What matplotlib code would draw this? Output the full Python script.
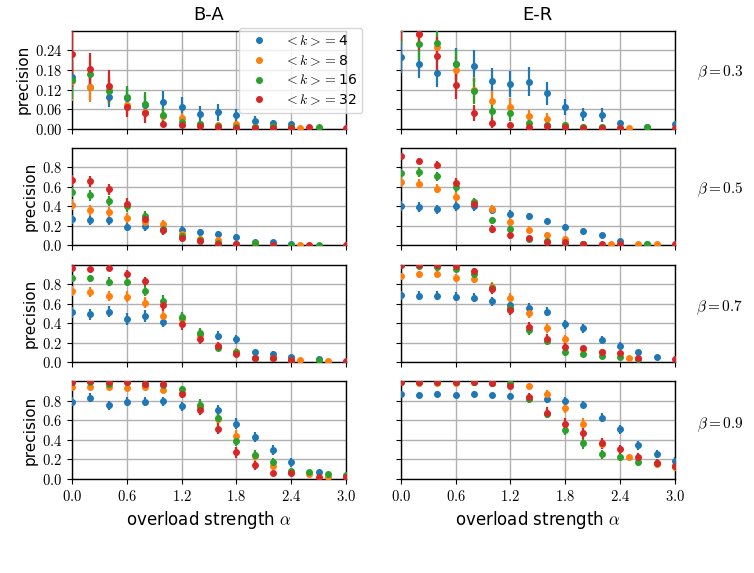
import numpy as np
import matplotlib
matplotlib.use("Agg")
import matplotlib.pyplot as plt
from matplotlib.lines import Line2D
from matplotlib.ticker import FuncFormatter, MultipleLocator

plt.rcParams['mathtext.fontset'] = 'cm'
plt.rcParams['font.family'] = ['DejaVu Sans']

# ---------------- data ----------------
ALPHA = [0.0, 0.2, 0.4, 0.6, 0.8, 1.0, 1.2, 1.4, 1.6, 1.8, 2.0, 2.2, 2.4, 2.6, 2.8, 3.0]
K_VALUES = [4, 8, 16, 32]
COLORS = ['#1f77b4', '#ff7f0e', '#2ca02c', '#d62728']
NETWORKS = ['B-A', 'E-R']
BETAS = ['0.3', '0.5', '0.7', '0.9']
N = None

BA_03 = {
    4:  [0.159, 0.128, 0.097, 0.094, 0.072, 0.082, 0.067, 0.046, 0.050, 0.041, 0.024, 0.016, 0.013, N, N, N],
    8:  [0.146, 0.128, 0.120, 0.072, 0.051, 0.038, 0.034, 0.015, 0.012, 0.013, 0.005, 0.004, 0.003, N, N, N],
    16: [0.150, 0.169, 0.116, 0.097, 0.077, 0.041, 0.021, 0.015, 0.008, 0.006, 0.005, 0.008, 0.006, N, N, N],
    32: [0.229, 0.182, 0.131, 0.067, 0.048, 0.015, 0.012, 0.009, 0.005, 0.003, 0.003, 0.003, 0.003, 0.005, N, 0.003],
}
BA_03_ERR = {
    4:  [0.040, 0.040, 0.030, 0.030, 0.030, 0.033, 0.030, 0.025, 0.025, 0.020, 0.015, 0.010, 0.008, N, N, N],
    8:  [0.060, 0.045, 0.040, 0.030, 0.025, 0.020, 0.015, 0.010, 0.008, 0.008, 0.004, 0.003, 0.002, N, N, N],
    16: [0.060, 0.040, 0.040, 0.035, 0.035, 0.025, 0.015, 0.010, 0.006, 0.004, 0.004, 0.004, 0.003, N, N, N],
    32: [0.100, 0.050, 0.050, 0.030, 0.030, 0.010, 0.008, 0.005, 0.004, 0.003, 0.003, 0.003, 0.003, 0.003, N, 0.002],
}
BA_03_EXTRA = {8: [(2.5, 0.003)], 16: [(2.7, 0.005)]}

ER_03 = {
    4:  [0.221, 0.197, 0.172, 0.198, 0.192, 0.146, 0.136, 0.144, 0.109, 0.067, 0.044, 0.042, 0.016, N, N, 0.013],
    8:  [0.310, 0.292, 0.250, 0.180, 0.120, 0.085, 0.065, 0.038, 0.029, 0.012, 0.006, 0.004, 0.003, N, N, N],
    16: [0.320, 0.260, 0.262, 0.198, 0.116, 0.054, 0.048, 0.017, 0.010, 0.010, 0.005, 0.005, 0.003, N, N, N],
    32: [0.330, 0.292, 0.222, 0.135, 0.049, 0.018, 0.012, 0.005, 0.008, 0.005, 0.003, 0.003, 0.003, N, N, 0.003],
}
ER_03_ERR = {
    4:  [0.050, 0.040, 0.045, 0.050, 0.050, 0.040, 0.040, 0.045, 0.035, 0.025, 0.020, 0.020, 0.010, N, N, 0.008],
    8:  [0.050, 0.040, 0.040, 0.040, 0.040, 0.030, 0.030, 0.020, 0.020, 0.010, 0.005, 0.004, 0.003, N, N, N],
    16: [0.060, 0.050, 0.050, 0.045, 0.040, 0.025, 0.025, 0.015, 0.008, 0.006, 0.004, 0.004, 0.003, N, N, N],
    32: [0.060, 0.050, 0.060, 0.045, 0.025, 0.015, 0.010, 0.005, 0.005, 0.004, 0.003, 0.003, 0.003, N, N, 0.002],
}
ER_03_EXTRA = {4: [(2.7, 0.005)], 8: [(2.5, 0.002)], 16: [(2.7, 0.005)]}

BA_05 = {
    4:  [0.267, 0.256, 0.256, 0.188, 0.195, 0.160, 0.160, 0.133, 0.113, 0.085, 0.034, 0.031, 0.010, N, N, N],
    8:  [0.417, 0.359, 0.338, 0.280, 0.239, 0.215, 0.120, 0.068, 0.051, 0.012, 0.030, N, N, N, N, N],
    16: [0.547, 0.513, 0.455, 0.400, 0.297, 0.171, 0.096, 0.060, 0.024, 0.010, 0.027, N, 0.007, N, N, N],
    32: [0.667, 0.656, 0.574, 0.427, 0.274, 0.154, 0.075, 0.044, 0.017, 0.010, N, 0.007, N, 0.007, N, 0.007],
}
BA_05_ERR = {
    4:  [0.045, 0.045, 0.045, 0.045, 0.045, 0.040, 0.040, 0.035, 0.030, 0.028, 0.016, 0.014, 0.007, N, N, N],
    8:  [0.055, 0.055, 0.055, 0.055, 0.055, 0.048, 0.040, 0.028, 0.020, 0.010, 0.014, N, N, N, N, N],
    16: [0.055, 0.055, 0.055, 0.055, 0.055, 0.048, 0.040, 0.028, 0.016, 0.008, 0.011, N, 0.007, N, N, N],
    32: [0.055, 0.055, 0.055, 0.055, 0.055, 0.048, 0.034, 0.028, 0.014, 0.008, N, 0.007, N, 0.007, N, 0.007],
}
BA_05_EXTRA = {8: [(2.5, 0.007)], 16: [(2.7, 0.007)]}

ER_05 = {
    4:  [0.403, 0.393, 0.369, 0.400, 0.403, 0.360, 0.325, 0.297, 0.250, 0.188, 0.147, 0.103, 0.044, N, N, N],
    8:  [0.650, 0.632, 0.581, 0.496, 0.440, 0.369, 0.236, 0.161, 0.109, 0.068, 0.010, N, N, 0.012, 0.010, N],
    16: [0.745, 0.752, 0.708, 0.598, 0.441, 0.256, 0.171, 0.070, 0.044, 0.030, 0.010, N, N, N, N, N],
    32: [0.913, 0.865, 0.820, 0.639, 0.427, 0.171, 0.103, 0.072, 0.038, 0.031, 0.010, 0.010, 0.010, N, N, 0.010],
}
ER_05_ERR = {
    4:  [0.048, 0.048, 0.048, 0.048, 0.048, 0.040, 0.040, 0.040, 0.034, 0.034, 0.028, 0.020, 0.011, N, N, N],
    8:  [0.048, 0.048, 0.048, 0.048, 0.048, 0.048, 0.040, 0.034, 0.028, 0.020, 0.007, N, N, 0.007, 0.006, N],
    16: [0.040, 0.048, 0.048, 0.048, 0.048, 0.040, 0.034, 0.020, 0.014, 0.011, 0.007, N, N, N, N, N],
    32: [0.028, 0.034, 0.040, 0.048, 0.048, 0.040, 0.034, 0.020, 0.014, 0.011, 0.006, 0.006, 0.006, N, N, 0.006],
}
ER_05_EXTRA = {4: [(2.7, 0.020)], 8: [(2.3, 0.012)], 16: [(2.7, 0.020)]}

BA_07 = {
    4:  [0.510, 0.490, 0.517, 0.442, 0.473, 0.415, 0.449, 0.290, 0.272, 0.235, 0.102, 0.085, 0.051, N, N, N],
    8:  [0.728, 0.721, 0.677, 0.670, 0.609, 0.476, 0.440, 0.280, 0.170, 0.109, 0.048, 0.040, 0.020, N, 0.014, N],
    16: [0.857, 0.857, 0.823, 0.823, 0.731, 0.626, 0.459, 0.296, 0.150, 0.102, 0.048, 0.041, 0.020, N, N, N],
    32: [0.966, 0.949, 0.966, 0.901, 0.830, 0.585, 0.391, 0.238, 0.170, 0.082, 0.041, 0.041, 0.020, N, N, 0.014],
}
BA_07_ERR = {
    4:  [0.058, 0.058, 0.058, 0.058, 0.058, 0.058, 0.058, 0.052, 0.046, 0.046, 0.026, 0.026, 0.016, N, N, N],
    8:  [0.054, 0.054, 0.054, 0.054, 0.054, 0.058, 0.058, 0.052, 0.040, 0.034, 0.016, 0.014, 0.008, N, 0.007, N],
    16: [0.040, 0.040, 0.046, 0.046, 0.052, 0.058, 0.058, 0.052, 0.040, 0.026, 0.016, 0.014, 0.008, N, N, N],
    32: [0.020, 0.026, 0.020, 0.040, 0.046, 0.058, 0.058, 0.052, 0.040, 0.026, 0.014, 0.014, 0.008, N, N, 0.007],
}
BA_07_EXTRA = {4: [(2.7, 0.030)], 8: [(2.5, 0.027)], 16: [(2.7, 0.027)]}

ER_07 = {
    4:  [0.687, 0.680, 0.680, 0.670, 0.660, 0.626, 0.585, 0.558, 0.517, 0.391, 0.347, 0.231, 0.170, 0.109, 0.054, N],
    8:  [0.884, 0.898, 0.908, 0.864, 0.850, 0.772, 0.660, 0.507, 0.347, 0.238, 0.136, 0.100, N, N, N, N],
    16: [0.993, 0.986, 0.976, 0.959, 0.908, 0.760, 0.551, 0.330, 0.218, 0.102, 0.082, 0.068, 0.051, 0.034, N, N],
    32: [0.990, 0.995, 0.995, 0.986, 0.932, 0.748, 0.534, 0.364, 0.238, 0.160, 0.143, 0.109, 0.092, 0.048, N, 0.034],
}
ER_07_ERR = {
    4:  [0.046, 0.046, 0.046, 0.046, 0.046, 0.046, 0.046, 0.046, 0.046, 0.046, 0.046, 0.040, 0.034, 0.020, 0.014, N],
    8:  [0.034, 0.034, 0.034, 0.040, 0.040, 0.052, 0.052, 0.058, 0.052, 0.040, 0.034, 0.026, N, N, N, N],
    16: [0.014, 0.014, 0.020, 0.026, 0.040, 0.052, 0.052, 0.052, 0.046, 0.034, 0.026, 0.020, 0.014, 0.011, N, N],
    32: [0.014, 0.011, 0.011, 0.020, 0.034, 0.052, 0.052, 0.052, 0.046, 0.034, 0.026, 0.026, 0.020, 0.014, N, 0.011],
}
ER_07_EXTRA = {8: [(2.5, 0.041)]}

BA_09 = {
    4:  [0.789, 0.830, 0.755, 0.789, 0.789, 0.796, 0.745, 0.738, 0.704, 0.568, 0.429, 0.296, 0.170, N, N, N],
    8:  [0.942, 0.942, 0.942, 0.932, 0.942, 0.915, 0.884, 0.750, 0.619, 0.442, 0.235, 0.136, 0.068, 0.048, 0.020, N],
    16: [0.993, 0.990, 0.976, 0.990, 0.976, 0.960, 0.918, 0.762, 0.626, 0.391, 0.245, 0.170, 0.082, 0.068, 0.051, 0.041],
    32: [0.993, 1.000, 0.990, 0.993, 0.976, 0.976, 0.867, 0.704, 0.517, 0.272, 0.143, 0.058, 0.058, N, N, 0.024],
}
BA_09_ERR = {
    4:  [0.046, 0.046, 0.046, 0.046, 0.046, 0.046, 0.046, 0.052, 0.052, 0.058, 0.052, 0.052, 0.046, N, N, N],
    8:  [0.026, 0.026, 0.026, 0.026, 0.026, 0.034, 0.040, 0.052, 0.052, 0.058, 0.052, 0.040, 0.026, 0.020, 0.011, N],
    16: [0.011, 0.014, 0.016, 0.014, 0.016, 0.020, 0.034, 0.052, 0.052, 0.058, 0.052, 0.046, 0.026, 0.020, 0.016, 0.014],
    32: [0.011, 0.007, 0.011, 0.011, 0.016, 0.016, 0.040, 0.052, 0.058, 0.052, 0.046, 0.026, 0.026, N, N, 0.011],
}
BA_09_EXTRA = {4: [(2.7, 0.075)], 32: [(2.7, 0.024)]}

ER_09 = {
    4:  [0.867, 0.857, 0.874, 0.857, 0.874, 0.857, 0.850, 0.830, 0.816, 0.796, 0.762, 0.626, 0.507, 0.347, 0.252, 0.184],
    8:  [0.990, 0.986, 0.986, 0.986, 0.990, 0.986, 0.970, 0.952, 0.874, 0.728, 0.568, 0.357, N, N, 0.150, 0.126],
    16: [0.990, 0.990, 0.990, 0.990, 0.990, 0.980, 0.980, 0.823, 0.670, 0.500, 0.364, 0.252, 0.221, 0.170, 0.160, 0.130],
    32: [0.990, 0.990, 0.990, 0.990, 0.993, 0.980, 0.949, 0.840, 0.680, 0.568, 0.466, 0.364, 0.306, 0.228, 0.167, 0.136],
}
ER_09_ERR = {
    4:  [0.026, 0.026, 0.026, 0.026, 0.026, 0.026, 0.026, 0.034, 0.034, 0.040, 0.040, 0.046, 0.046, 0.046, 0.040, 0.040],
    8:  [0.011, 0.011, 0.011, 0.011, 0.011, 0.011, 0.020, 0.026, 0.040, 0.052, 0.052, 0.052, N, N, 0.040, 0.034],
    16: [0.011, 0.011, 0.011, 0.011, 0.011, 0.014, 0.020, 0.040, 0.046, 0.052, 0.052, 0.046, 0.040, 0.034, 0.034, 0.026],
    32: [0.011, 0.011, 0.011, 0.011, 0.011, 0.014, 0.026, 0.040, 0.052, 0.058, 0.058, 0.052, 0.046, 0.040, 0.040, 0.034],
}
ER_09_EXTRA = {8: [(2.5, 0.228)]}

PANELS = [
    [(BA_03, BA_03_ERR, BA_03_EXTRA), (ER_03, ER_03_ERR, ER_03_EXTRA)],
    [(BA_05, BA_05_ERR, BA_05_EXTRA), (ER_05, ER_05_ERR, ER_05_EXTRA)],
    [(BA_07, BA_07_ERR, BA_07_EXTRA), (ER_07, ER_07_ERR, ER_07_EXTRA)],
    [(BA_09, BA_09_ERR, BA_09_EXTRA), (ER_09, ER_09_ERR, ER_09_EXTRA)],
]

# ---------------- figure ----------------
fig = plt.figure(figsize=(7.54, 5.73), dpi=100)
axes = fig.subplots(4, 2, sharex=True, sharey='row')
fig.subplots_adjust(left=0.0955, right=0.895, top=0.946, bottom=0.164,
                    wspace=0.2, hspace=0.195)


def as_float(vals):
    return np.array([np.nan if v is None else v for v in vals], dtype=float)


MS = 4.0
ELW = 1.6

for r in range(4):
    for c in range(2):
        ax = axes[r, c]
        data, err, extra = PANELS[r][c]
        x = np.array(ALPHA)
        for k, col in zip(K_VALUES, COLORS):
            y = as_float(data[k])
            e = as_float(err[k])
            ax.errorbar(x, y, yerr=e, fmt='o', ms=MS, color=col, ecolor=col,
                        elinewidth=ELW, capsize=0, zorder=3)
            if k in extra:
                ex = [p[0] for p in extra[k]]
                ey = [p[1] for p in extra[k]]
                ax.errorbar(ex, ey, yerr=[0.005] * len(ex), fmt='o', ms=MS, color=col,
                            ecolor=col, elinewidth=ELW, capsize=0, zorder=3)
        ax.set_xlim(0, 3.0)
        ax.xaxis.set_major_locator(MultipleLocator(0.6))
        if r == 0:
            ax.set_ylim(0, 0.3)
            ax.set_yticks([0.0, 0.06, 0.12, 0.18, 0.24])
            ax.yaxis.set_major_formatter(FuncFormatter(lambda v, p: r'$%.2f$' % v))
        else:
            ax.set_ylim(0, 1.0)
            ax.set_yticks([0.0, 0.2, 0.4, 0.6, 0.8])
            ax.yaxis.set_major_formatter(FuncFormatter(lambda v, p: r'$%.1f$' % v))
        ax.xaxis.set_major_formatter(FuncFormatter(lambda v, p: r'$%.1f$' % v))
        ax.grid(True, color='#b0b0b0', lw=1.0, zorder=0)
        ax.set_axisbelow(True)
        ax.tick_params(axis='both', labelsize=10.5, length=3.5, width=0.8, direction='out')
        for s in ax.spines.values():
            s.set_linewidth(1.0)
        if c == 0:
            ax.set_ylabel('precision', fontsize=11, labelpad=3)
        else:
            ax.tick_params(axis='y', labelleft=False)
        if r == 3:
            ax.set_xlabel(r'overload strength $\alpha$', fontsize=12, labelpad=4)
        if r == 0:
            ax.set_title(NETWORKS[c], fontsize=13, pad=8)

# row labels
row_y_px = [73, 190, 308, 425]
for b, ypx in zip(BETAS, row_y_px):
    fig.text(720 / 754, 1 - ypx / 573, r'$\beta=%s$' % b, ha='center', va='center', fontsize=11)

# legend
handles = [Line2D([], [], marker='o', ls='', color=col, ms=MS) for col in COLORS]
labels = [r'$<k>=$' + str(k) for k in K_VALUES]
axes[0, 0].legend(handles, labels, loc='upper right', bbox_to_anchor=(1.06, 1.03),
                  borderaxespad=0, fontsize=10, handletextpad=0.8, labelspacing=0.35,
                  borderpad=0.4, framealpha=0.8)

fig.savefig('out.png', dpi=100)
